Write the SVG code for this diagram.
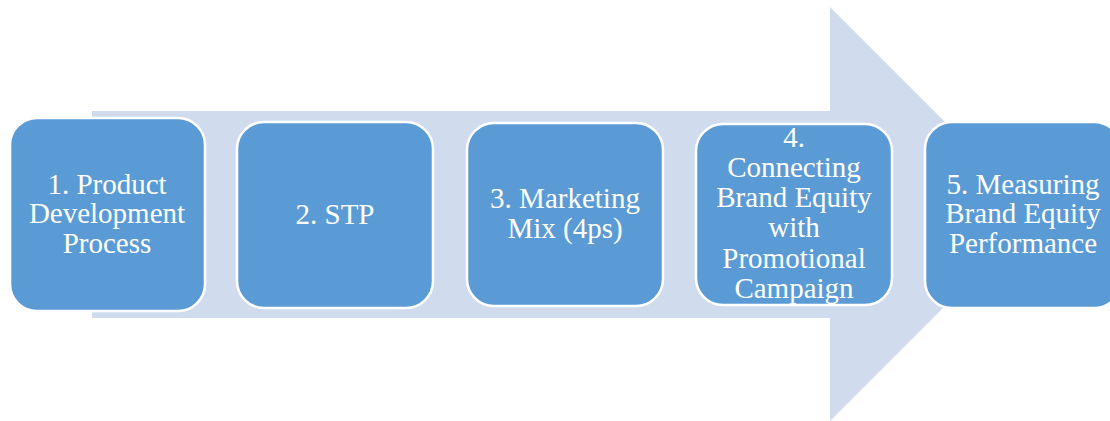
<svg xmlns="http://www.w3.org/2000/svg" width="1110" height="421" viewBox="0 0 1110 421">
<style>
.box{fill:#5B9BD5;stroke:#FFFFFF;stroke-width:2.5}
.lbl{fill:#FFFFFF;font-size:29px;text-anchor:middle}
</style>
<rect width="1110" height="421" fill="#FFFFFF"/>
<g id="connectors">
<polygon points="92,111 830,111 830,7 1037,214 830,421 830,318 92,318" fill="#D0DCEE"/>
</g>
<g font-family="Liberation Serif, Times New Roman, DejaVu Serif, serif">
<g id="node1">
<rect class="box" x="10" y="118" width="195" height="193" rx="27"/>
<text class="lbl" x="107" y="194">1. Product</text>
<text class="lbl" x="107" y="223">Development</text>
<text class="lbl" x="107" y="253">Process</text>
</g>
<g id="node2">
<rect class="box" x="237" y="122" width="196" height="186" rx="27"/>
<text class="lbl" x="335" y="224">2. STP</text>
</g>
<g id="node3">
<rect class="box" x="467" y="123" width="196" height="183" rx="27"/>
<text class="lbl" x="565" y="208">3. Marketing</text>
<text class="lbl" x="565" y="238">Mix (4ps)</text>
</g>
<g id="node4">
<rect class="box" x="696" y="124" width="196" height="181" rx="27"/>
<text class="lbl" x="794" y="147">4.</text>
<text class="lbl" x="794" y="177">Connecting</text>
<text class="lbl" x="794" y="207">Brand Equity</text>
<text class="lbl" x="794" y="237">with</text>
<text class="lbl" x="794" y="268">Promotional</text>
<text class="lbl" x="794" y="298">Campaign</text>
</g>
<g id="node5">
<rect class="box" x="925" y="122" width="196" height="186" rx="27"/>
<text class="lbl" x="1023" y="194">5. Measuring</text>
<text class="lbl" x="1023" y="223">Brand Equity</text>
<text class="lbl" x="1023" y="253">Performance</text>
</g>
</g>
</svg>
